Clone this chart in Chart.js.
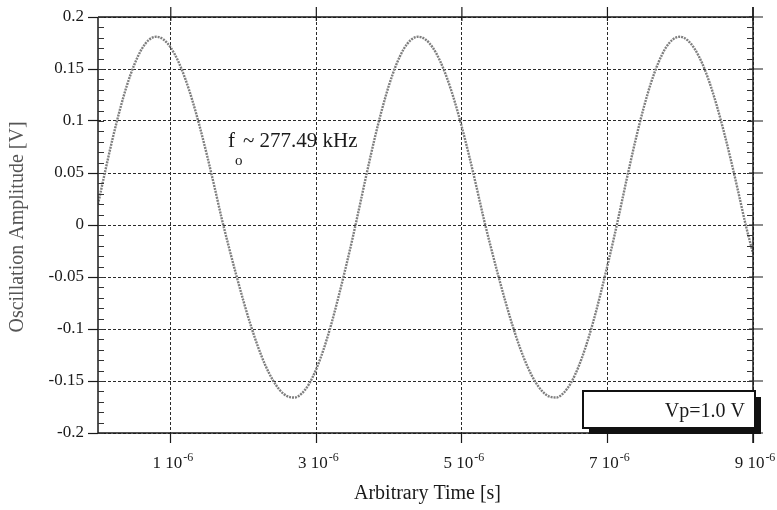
<!DOCTYPE html>
<html><head><meta charset="utf-8">
<script src="https://cdn.jsdelivr.net/npm/chart.js@4.4.1/dist/chart.umd.min.js"></script>
<style>html,body{margin:0;padding:0;background:#fff}#wrap{width:777px;height:510px}</style>
</head><body><div id="wrap"><canvas id="c" width="777" height="510"></canvas></div>
<script>
// time in units of 1e-6 s
const timeUs = [
0.0,0.1,0.2,0.3,0.4,0.5,0.6,0.7,0.8,0.9,
1.0,1.1,1.2,1.3,1.4,1.5,1.6,1.7,1.8,1.9,
2.0,2.1,2.2,2.3,2.4,2.5,2.6,2.7,2.8,2.9,
3.0,3.1,3.2,3.3,3.4,3.5,3.6,3.7,3.8,3.9,
4.0,4.1,4.2,4.3,4.4,4.5,4.6,4.7,4.8,4.9,
5.0,5.1,5.2,5.3,5.4,5.5,5.6,5.7,5.8,5.9,
6.0,6.1,6.2,6.3,6.4,6.5,6.6,6.7,6.8,6.9,
7.0,7.1,7.2,7.3,7.4,7.5,7.6,7.7,7.8,7.9,
8.0,8.1,8.2,8.3,8.4,8.5,8.6,8.7,8.8,8.9,
9.0];
const amplitudeV = [
0.0198,0.0521,0.0828,0.1106,0.1348,0.1544,0.1691,0.1780,0.1810,0.1784,
0.1705,0.1578,0.1404,0.1190,0.0940,0.0664,0.0368,0.0062,-0.0217,-0.0482,
-0.0734,-0.0967,-0.1174,-0.1350,-0.1489,-0.1589,-0.1646,-0.1659,-0.1620,-0.1528,
-0.1384,-0.1195,-0.0966,-0.0703,-0.0420,-0.0121,0.0198,0.0521,0.0828,0.1106,
0.1348,0.1544,0.1691,0.1780,0.1810,0.1784,0.1705,0.1578,0.1404,0.1190,
0.0940,0.0664,0.0368,0.0062,-0.0219,-0.0487,-0.0741,-0.0976,-0.1184,-0.1359,
-0.1498,-0.1595,-0.1649,-0.1658,-0.1613,-0.1516,-0.1367,-0.1174,-0.0942,-0.0677,
-0.0390,-0.0091,0.0231,0.0553,0.0857,0.1132,0.1370,0.1561,0.1702,0.1785,
0.1810,0.1777,0.1692,0.1557,0.1375,0.1153,0.0896,0.0613,0.0311,0.0000,
-0.0273];
const xTickValues = [1,3,5,7,9];
const xTickMantissa = ['1','3','5','7','9'];
const xTickExponent = '-6';
const yMin = -0.2, yMax = 0.2, yStep = 0.05, yMinorStep = 0.01;
const xMin = 0, xMax = 9;
const xTitle = 'Arbitrary Time [s]';
const yTitle = 'Oscillation Amplitude [V]';
const freqMain = 'f';
const freqSub = 'o';
const freqRest = '~ 277.49 kHz';
const boxLabel = 'Vp=1.0 V';

const SERIF = "'Liberation Serif','Times New Roman',serif";

const decor = {
  id: 'decor',
  afterDraw(chart) {
    const ctx = chart.ctx;
    const xs = chart.scales.x, ys = chart.scales.y;
    const L = chart.chartArea.left, R = chart.chartArea.right, T = chart.chartArea.top, B = chart.chartArea.bottom;
    ctx.save();
    ctx.strokeStyle = '#1a1a1a';
    ctx.lineWidth = 1.5;
    ctx.setLineDash([]);
    // frame
    ctx.beginPath();
    ctx.moveTo(L, T); ctx.lineTo(R, T);
    ctx.moveTo(L, B); ctx.lineTo(R, B);
    ctx.moveTo(L, T); ctx.lineTo(L, B);
    ctx.moveTo(R, T - 10); ctx.lineTo(R, B + 10);
    ctx.stroke();
    // top ticks
    ctx.lineWidth = 1.2;
    ctx.beginPath();
    xTickValues.forEach(v => { const px = xs.getPixelForValue(v); ctx.moveTo(px, T - 10); ctx.lineTo(px, T + 4); });
    ctx.stroke();
    // right major ticks
    ctx.beginPath();
    for (let v = yMin; v <= yMax + 1e-9; v += yStep) { const py = ys.getPixelForValue(v); ctx.moveTo(R - 4, py); ctx.lineTo(R + 10, py); }
    ctx.stroke();
    // minor ticks left & right
    ctx.lineWidth = 1;
    ctx.strokeStyle = '#333';
    ctx.beginPath();
    for (let k = 0; k <= Math.round((yMax - yMin) / yMinorStep); k++) {
      const v = yMin + k * yMinorStep;
      const py = Math.round(ys.getPixelForValue(v)) + 0.5;
      ctx.moveTo(L, py); ctx.lineTo(L + 6, py);
      ctx.moveTo(R - 6, py); ctx.lineTo(R, py);
    }
    ctx.stroke();
    // x tick labels with superscript
    ctx.fillStyle = '#1a1a1a';
    ctx.textBaseline = 'alphabetic';
    ctx.textAlign = 'left';
    xTickValues.forEach((v, i) => {
      const px = xs.getPixelForValue(v);
      const main = xTickMantissa[i] + ' 10';
      ctx.font = '17px ' + SERIF;
      const w1 = ctx.measureText(main).width;
      ctx.font = '12px ' + SERIF;
      const w2 = ctx.measureText(xTickExponent).width;
      const x0 = px - (w1 + w2 + 1) / 2 + 2;
      ctx.font = '17px ' + SERIF;
      ctx.fillText(main, x0, 468);
      ctx.font = '12px ' + SERIF;
      ctx.fillText(xTickExponent, x0 + w1 + 1, 461);
    });
    // x title
    ctx.fillStyle = '#1a1a1a';
    ctx.font = '20px ' + SERIF;
    ctx.textAlign = 'center';
    ctx.fillText(xTitle, (L + R) / 2 + 2, 499);
    // y title
    ctx.save();
    ctx.translate(18, 227);
    ctx.rotate(-Math.PI / 2);
    ctx.fillStyle = '#555';
    ctx.textBaseline = 'middle';
    ctx.fillText(yTitle, 0, 0);
    ctx.restore();
    // frequency annotation
    ctx.fillStyle = '#1a1a1a';
    ctx.textAlign = 'left';
    ctx.textBaseline = 'alphabetic';
    ctx.font = '21px ' + SERIF;
    ctx.fillText(freqMain, 228, 147);
    ctx.font = '15px ' + SERIF;
    ctx.fillText(freqSub, 235, 165);
    ctx.font = '21px ' + SERIF;
    ctx.fillText(freqRest, 243, 147);
    // Vp box with shadow
    ctx.fillStyle = '#111';
    ctx.fillRect(589, 397, 172, 37);
    ctx.fillStyle = '#fff';
    ctx.fillRect(583, 391, 172, 37);
    ctx.strokeStyle = '#111';
    ctx.lineWidth = 2;
    ctx.strokeRect(583, 391, 172, 37);
    ctx.fillStyle = '#1a1a1a';
    ctx.font = '20px ' + SERIF;
    ctx.textAlign = 'right';
    ctx.fillText(boxLabel, 745, 417);
    ctx.restore();
  }
};

new Chart(document.getElementById('c'), {
  type: 'line',
  data: {
    datasets: [{
      data: timeUs.map((t, i) => ({ x: t, y: amplitudeV[i] })),
      borderColor: 'rgba(120,120,120,0.95)',
      borderWidth: 2.4,
      borderDash: [2, 1],
      pointRadius: 0,
      cubicInterpolationMode: 'monotone',
      fill: false
    }]
  },
  options: {
    responsive: false,
    animation: false,
    devicePixelRatio: 1,
    layout: { padding: { top: 17, right: 24, left: 0, bottom: 0 } },
    plugins: { legend: { display: false }, tooltip: { enabled: false } },
    scales: {
      x: {
        type: 'linear', min: xMin, max: xMax,
        afterBuildTicks: s => { s.ticks = xTickValues.map(v => ({ value: v })); },
        afterFit: s => { s.height = 77; },
        ticks: { display: false },
        grid: { color: '#2a2a2a', lineWidth: 1, drawTicks: true, tickLength: 10, tickColor: '#1a1a1a', tickWidth: 1.2 },
        border: { display: false, dash: [3, 2] }
      },
      y: {
        min: yMin, max: yMax,
        afterFit: s => { s.width = 98; },
        ticks: {
          stepSize: yStep, padding: 4, color: '#1a1a1a',
          font: { family: SERIF, size: 17 },
          callback: v => String(+Number(v).toFixed(2))
        },
        grid: { color: '#2a2a2a', lineWidth: 1, drawTicks: true, tickLength: 10, tickColor: '#1a1a1a', tickWidth: 1.2 },
        border: { display: false, dash: [3, 2] }
      }
    }
  },
  plugins: [decor]
});
</script>
</body></html>
